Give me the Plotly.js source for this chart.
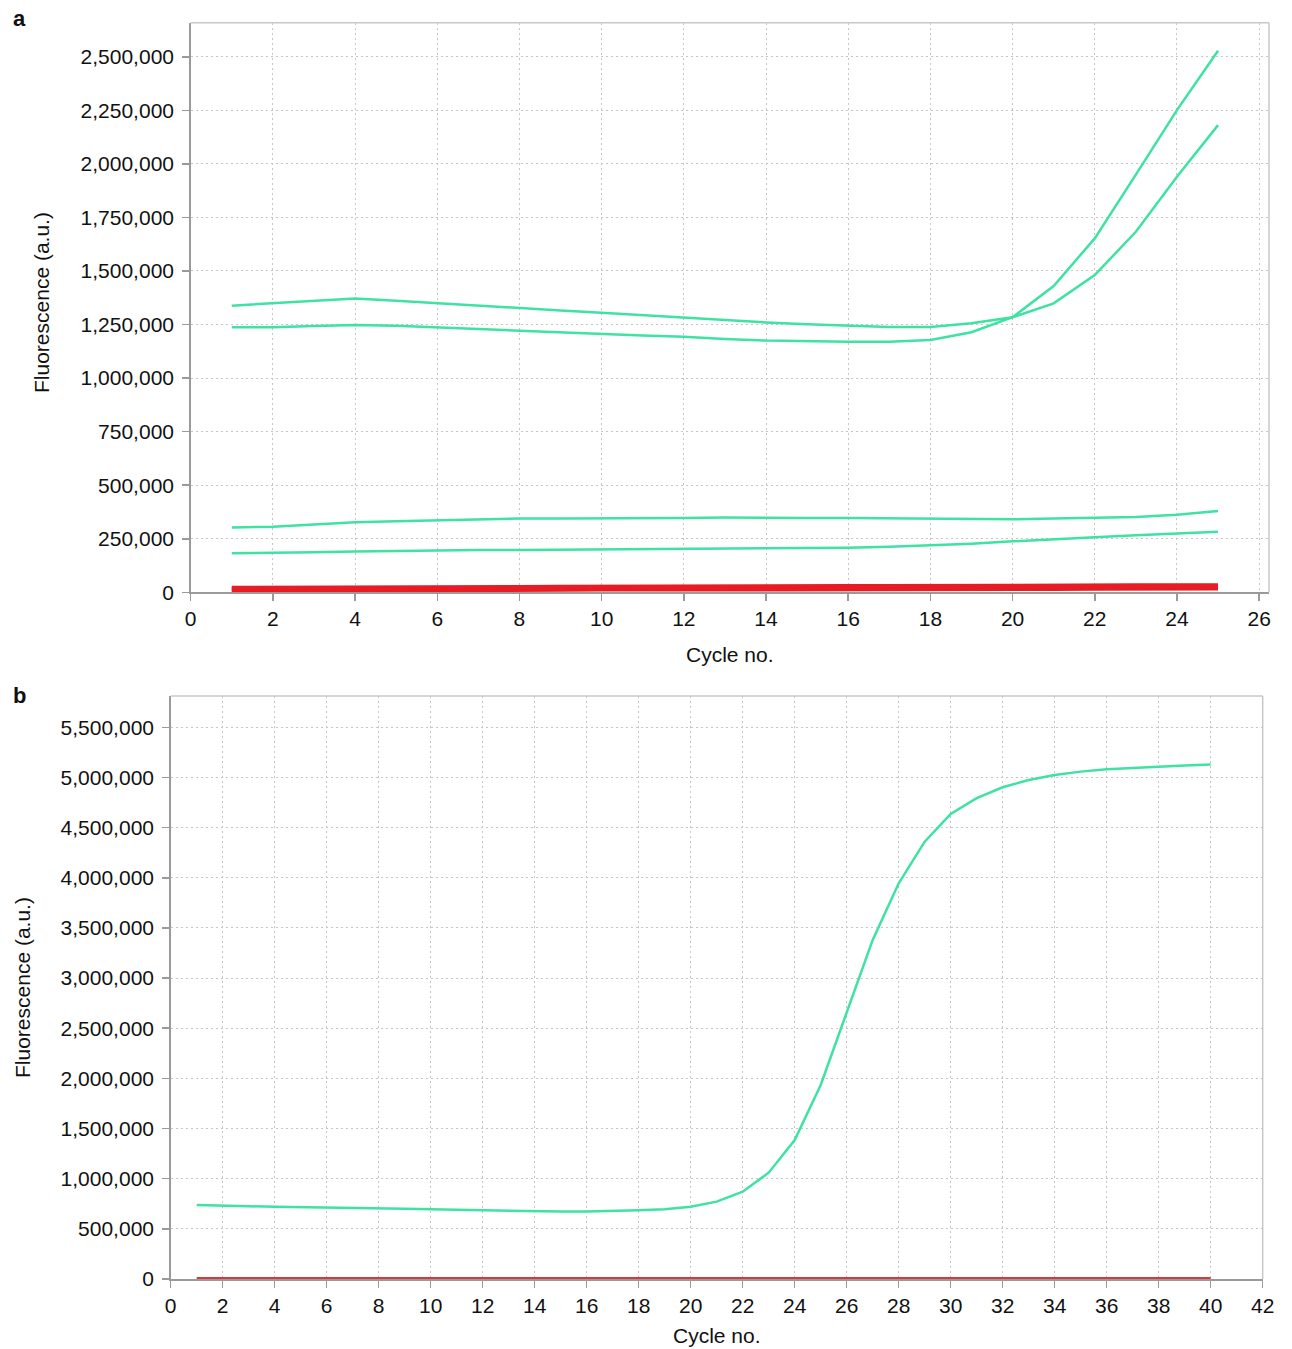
<!DOCTYPE html>
<html>
<head>
<meta charset="utf-8">
<script src="https://cdn.plot.ly/plotly-3.0.1.min.js"></script>
<style>html,body{margin:0;padding:0;background:#fff;}#chart{width:1292px;height:1349px;}</style>
</head>
<body>
<div id="chart"></div>
<script>
// ---------- Panel a data ----------
const cyclesA = [1,2,3,4,5,6,7,8,9,10,11,12,13,14,15,16,17,18,19,20,21,22,23,24,25];
const greenA1 = [1237000,1237000,1243000,1248000,1244000,1238000,1229000,1221000,1213000,1206000,1199000,1193000,1182000,1175000,1172000,1170000,1170000,1178000,1214000,1284000,1430000,1652000,1950000,2251000,2528000];
const greenA2 = [1338000,1349000,1362000,1372000,1361000,1349000,1338000,1327000,1316000,1305000,1293000,1282000,1271000,1260000,1251000,1243000,1238000,1238000,1256000,1284000,1349000,1481000,1683000,1940000,2181000];
const greenA3 = [303000,306000,316000,327000,332000,337000,341000,344000,345000,345000,346000,347000,349000,347000,347000,347000,346000,344000,341000,341000,344000,349000,352000,362000,379000];
const greenA4 = [182000,183000,187000,190000,193000,195000,197000,198000,199000,199000,200000,201000,202000,204000,206000,208000,213000,219000,227000,238000,249000,257000,266000,274000,283000];
const redA1 = [5000,5000,6000,6000,7000,7000,7000,8000,8000,9000,9000,9000,10000,10000,10000,11000,11000,11000,12000,12000,12000,13000,13000,13000,14000];
const redA2 = [10000,10000,11000,11000,12000,12000,13000,13000,14000,14000,15000,15000,16000,16000,16000,17000,17000,18000,18000,18000,19000,19000,19000,20000,20000];
const redA3 = [15000,15000,16000,16000,17000,17000,18000,18000,19000,19000,20000,21000,21000,22000,22000,23000,23000,23000,24000,24000,25000,25000,25000,26000,26000];
const redA4 = [20000,20000,21000,21000,22000,22000,23000,23000,24000,25000,25000,26000,27000,27000,28000,28000,28000,29000,29000,30000,30000,30000,31000,31000,31000];
const redA5 = [25000,25000,26000,26000,27000,27000,28000,28000,29000,30000,30000,31000,32000,32000,33000,33000,33000,34000,34000,35000,35000,35000,36000,36000,36000];

// ---------- Panel b data ----------
const cyclesB = [1,2,3,4,5,6,7,8,9,10,11,12,13,14,15,16,17,18,19,20,21,22,23,24,25,26,27,28,29,30,31,32,33,34,35,36,37,38,39,40];
const greenB = [738000,728000,725000,721000,718000,714000,710000,705000,700000,695000,690000,685000,678000,674000,672000,672000,676000,686000,695000,721000,771000,870000,1060000,1386000,1934000,2662000,3380000,3945000,4360000,4636000,4793000,4902000,4975000,5025000,5058000,5082000,5095000,5112000,5118000,5128000];
const redB = [7000,7000,7000,7000,7000,7000,7000,7000,7000,7000,7000,7000,8000,8000,8000,8000,8000,8000,8000,8000,8000,8000,8000,8000,8000,8000,8000,8000,8000,8000,8000,8000,8000,8000,8000,8000,8000,8000,8000,8000];

const GREEN = '#3ee2a2';
const RED = '#e81c24';
const RED_B = '#d8383e';

function line(x, y, color, w, xa, ya){
  return {x: x, y: y, type: 'scatter', mode: 'lines', line: {color: color, width: w, shape: 'linear'},
          xaxis: xa, yaxis: ya, hoverinfo: 'skip', showlegend: false};
}

const traces = [
  line(cyclesA, redA1, RED, 2.5, 'x', 'y'),
  line(cyclesA, redA2, RED, 2.5, 'x', 'y'),
  line(cyclesA, redA3, RED, 2.5, 'x', 'y'),
  line(cyclesA, redA4, RED, 2.5, 'x', 'y'),
  line(cyclesA, redA5, RED, 2.5, 'x', 'y'),
  line(cyclesA, greenA1, GREEN, 2.5, 'x', 'y'),
  line(cyclesA, greenA2, GREEN, 2.5, 'x', 'y'),
  line(cyclesA, greenA3, GREEN, 2.5, 'x', 'y'),
  line(cyclesA, greenA4, GREEN, 2.5, 'x', 'y'),
  line(cyclesB, redB, RED_B, 2.5, 'x2', 'y2'),
  line(cyclesB, greenB, GREEN, 2.5, 'x2', 'y2')
];

const W = 1292, H = 1349;
const FONT = 'Liberation Sans, Arial, Helvetica, sans-serif';
function px(x){ return x / W; }
function py(y){ return 1 - y / H; }

const axCommon = {
  showline: true, linecolor: '#9a9a9a', linewidth: 1.5,
  ticks: 'outside', ticklen: 7, tickwidth: 1.5, tickcolor: '#9a9a9a',
  showgrid: true, gridcolor: '#c6c6c6', gridwidth: 1, griddash: '2px,3px',
  zeroline: false, tickfont: {family: FONT, size: 21, color: '#111'},
  fixedrange: true
};

const layout = {
  width: W, height: H,
  margin: {l: 0, r: 0, t: 0, b: 0},
  paper_bgcolor: '#fff', plot_bgcolor: '#fff',
  showlegend: false,
  xaxis: Object.assign({}, axCommon, {domain: [px(190.7), px(1269)], range: [0, 26.24], tick0: 0, dtick: 2, anchor: 'y'}),
  yaxis: Object.assign({}, axCommon, {domain: [py(592.3), py(22.7)], range: [0, 2659000], tick0: 0, dtick: 250000, tickformat: ',d', anchor: 'x', ticklabelstandoff: 4}),
  xaxis2: Object.assign({}, axCommon, {domain: [px(170.7), px(1262.7)], range: [0, 42], tick0: 0, dtick: 2, anchor: 'y2'}),
  yaxis2: Object.assign({}, axCommon, {domain: [py(1279), py(696)], range: [0, 5812000], tick0: 0, dtick: 500000, tickformat: ',d', anchor: 'x2', ticklabelstandoff: 4}),
  shapes: [
    {type: 'line', xref: 'paper', yref: 'paper', x0: px(190.7), x1: px(1269), y0: py(22.7), y1: py(22.7), line: {color: '#c8c8c8', width: 1.5}},
    {type: 'line', xref: 'paper', yref: 'paper', x0: px(1269), x1: px(1269), y0: py(22.7), y1: py(592.3), line: {color: '#c8c8c8', width: 1.5}},
    {type: 'line', xref: 'paper', yref: 'paper', x0: px(170.7), x1: px(1262.7), y0: py(696), y1: py(696), line: {color: '#c8c8c8', width: 1.5}},
    {type: 'line', xref: 'paper', yref: 'paper', x0: px(1262.7), x1: px(1262.7), y0: py(696), y1: py(1279), line: {color: '#c8c8c8', width: 1.5}}
  ],
  annotations: [
    {text: '<b>a</b>', xref: 'paper', yref: 'paper', x: px(19), y: py(18), xanchor: 'center', yanchor: 'middle', showarrow: false, font: {family: FONT, size: 22, color: '#111'}},
    {text: 'Fluorescence (a.u.)', xref: 'paper', yref: 'paper', x: px(42), y: py(303), xanchor: 'center', yanchor: 'middle', textangle: -90, showarrow: false, font: {family: FONT, size: 21, color: '#111'}},
    {text: 'Cycle no.', xref: 'paper', yref: 'paper', x: px(730), y: py(654), xanchor: 'center', yanchor: 'middle', showarrow: false, font: {family: FONT, size: 21, color: '#111'}},
    {text: '<b>b</b>', xref: 'paper', yref: 'paper', x: px(19), y: py(695), xanchor: 'center', yanchor: 'middle', showarrow: false, font: {family: FONT, size: 22, color: '#111'}},
    {text: 'Fluorescence (a.u.)', xref: 'paper', yref: 'paper', x: px(22), y: py(988), xanchor: 'center', yanchor: 'middle', textangle: -90, showarrow: false, font: {family: FONT, size: 21, color: '#111'}},
    {text: 'Cycle no.', xref: 'paper', yref: 'paper', x: px(717), y: py(1335), xanchor: 'center', yanchor: 'middle', showarrow: false, font: {family: FONT, size: 21, color: '#111'}}
  ]
};

Plotly.newPlot('chart', traces, layout, {displayModeBar: false, staticPlot: true});
</script>
</body>
</html>
